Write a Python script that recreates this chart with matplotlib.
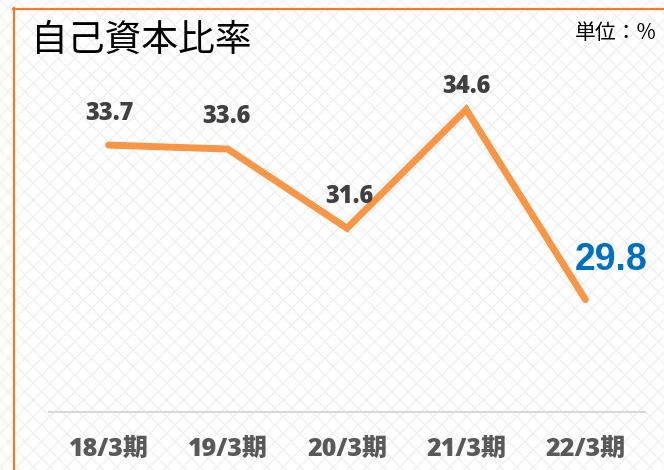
import matplotlib.pyplot as plt
from matplotlib.patches import Rectangle

# データ
periods = ["18/3期", "19/3期", "20/3期", "21/3期", "22/3期"]
ratios = [33.7, 33.6, 31.6, 34.6, 29.8]
labels = ["33.7", "33.6", "31.6", "34.6", "29.8"]

# ラベル位置 (pixels offset)
label_dx = [1, -1, 2, 0, 26]
label_dy = [32, 33, 32, 23, 40]

plt.rcParams['font.family'] = ['Noto Sans CJK JP', 'DejaVu Sans']
plt.rcParams['hatch.linewidth'] = 1.0
bold_fam = ['Open Sans', 'Noto Sans CJK JP']

W, H = 664, 470
fig = plt.figure(figsize=(W / 100, H / 100), dpi=100)
fig.patch.set_facecolor("white")

# 背景の格子模様
bg = Rectangle((0, 0), 1, 1, transform=fig.transFigure, facecolor="white",
               edgecolor="#f1f1f1", hatch="xx", linewidth=0, zorder=-10)
fig.patches.append(bg)

# オレンジの枠 (左と上)
fig.add_artist(plt.Line2D([13.5 / W, 13.5 / W], [0, 1 - 8 / H], transform=fig.transFigure,
                          color="#ED7D31", lw=1.6))
fig.add_artist(plt.Line2D([13 / W, 1], [1 - 8.5 / H, 1 - 8.5 / H], transform=fig.transFigure,
                          color="#ED7D31", lw=1.6))

# 軸: 左49px 右645px, 下412px 上60px
ax = fig.add_axes([49 / W, (H - 412) / H, (645 - 49) / W, (412 - 60) / H])
ax.patch.set_alpha(0)
x = list(range(len(periods)))
ax.plot(x, ratios, color="#F79646", lw=5, solid_capstyle="round", solid_joinstyle="miter")
ax.set_xlim(-0.5, 4.5)
ax.set_ylim(26.96, 26.96 + 352 / 39.6)

for i, (v, s) in enumerate(zip(ratios, labels)):
    if i == len(ratios) - 1:
        ax.annotate(s, (i, v), xytext=(label_dx[i], label_dy[i]), textcoords="offset pixels",
                    ha="center", va="center", fontsize=27, fontweight="bold",
                    color="#0070C0", family="Liberation Sans")
    else:
        ax.annotate(s, (i, v), xytext=(label_dx[i], label_dy[i]), textcoords="offset pixels",
                    ha="center", va="center", fontsize=17, fontweight="heavy",
                    color="#404040", family=bold_fam)

for sp in ["left", "right", "top"]:
    ax.spines[sp].set_visible(False)
ax.spines["bottom"].set_color("#d9d9d9")
ax.spines["bottom"].set_linewidth(1.5)
ax.set_yticks([])
ax.set_xticks(x)
ax.set_xticklabels(periods, fontsize=18, fontweight="heavy", color="#595959", family=bold_fam)
ax.tick_params(axis="x", length=0, pad=18)

fig.text(31 / W, 1 - 40 / H, "自己資本比率", fontsize=26.5, color="black", va="center", ha="left")
fig.text(657 / W, 1 - 33 / H, "単位：%", fontsize=15, color="black", va="center", ha="right")

fig.savefig("out.png", dpi=100)
